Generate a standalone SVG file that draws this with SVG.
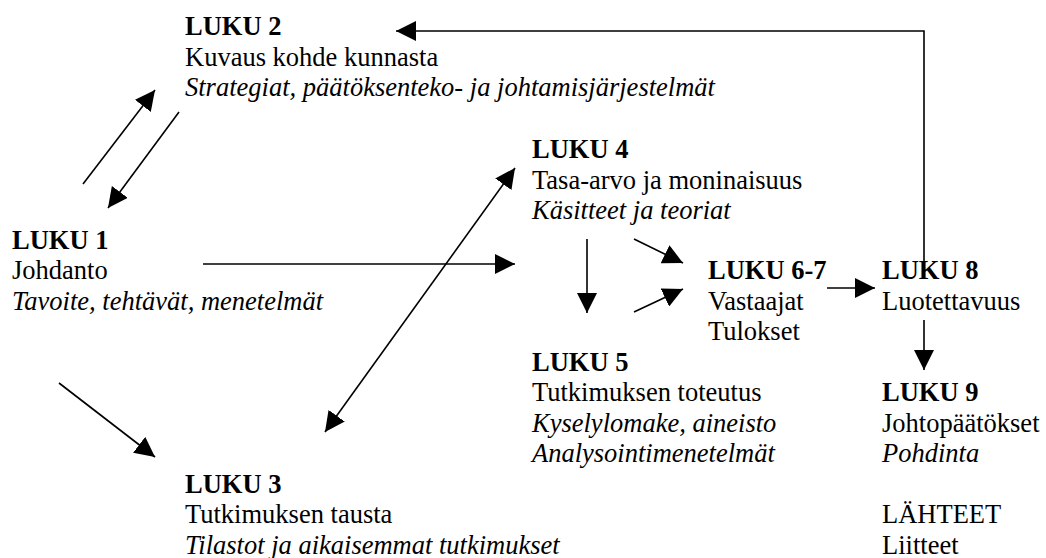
<svg xmlns="http://www.w3.org/2000/svg" width="1046" height="558" viewBox="0 0 1046 558">
  <style>
    text { font-family: "Liberation Serif", "Times New Roman", serif; font-size: 26.5px; fill: #000; }
    .h { font-weight: bold; }
    .i { font-style: italic; }
    .conn line, .conn polyline { stroke: #000; stroke-width: 1.6; fill: none; marker-end: url(#arrow); }
  </style>
  <defs>
    <marker id="arrow" viewBox="0 0 20 20" refX="20" refY="10" markerWidth="20" markerHeight="20" markerUnits="userSpaceOnUse" orient="auto-start-reverse">
      <path d="M0,0 L20,10 L0,20 z" fill="#000"/>
    </marker>
  </defs>
  <rect width="1046" height="558" fill="#fff"/>

  <!-- chapter blocks -->
  <g id="luku2">
    <text class="h" x="185" y="35">LUKU 2</text>
    <text x="185" y="65.5">Kuvaus kohde kunnasta</text>
    <text class="i" x="185" y="96">Strategiat, päätöksenteko- ja johtamisjärjestelmät</text>
  </g>
  <g id="luku1">
    <text class="h" x="12" y="248.5">LUKU 1</text>
    <text x="12" y="279">Johdanto</text>
    <text class="i" x="12" y="309.5">Tavoite, tehtävät, menetelmät</text>
  </g>
  <g id="luku4">
    <text class="h" x="532" y="158">LUKU 4</text>
    <text x="532" y="188.5">Tasa-arvo ja moninaisuus</text>
    <text class="i" x="532" y="219">Käsitteet ja teoriat</text>
  </g>
  <g id="luku67">
    <text class="h" x="708" y="279">LUKU 6-7</text>
    <text x="708" y="309.5">Vastaajat</text>
    <text x="708" y="340">Tulokset</text>
  </g>
  <g id="luku8">
    <text class="h" x="882" y="279">LUKU 8</text>
    <text x="882" y="309.5">Luotettavuus</text>
  </g>
  <g id="luku5">
    <text class="h" x="532" y="370.5">LUKU 5</text>
    <text x="532" y="401">Tutkimuksen toteutus</text>
    <text class="i" x="532" y="431.5">Kyselylomake, aineisto</text>
    <text class="i" x="532" y="462">Analysointimenetelmät</text>
  </g>
  <g id="luku9">
    <text class="h" x="882" y="401">LUKU 9</text>
    <text x="882" y="431.5">Johtopäätökset</text>
    <text class="i" x="882" y="462">Pohdinta</text>
  </g>
  <g id="liitteet">
    <text x="882" y="523">LÄHTEET</text>
    <text x="882" y="553.5">Liitteet</text>
  </g>
  <g id="luku3">
    <text class="h" x="185" y="492.5">LUKU 3</text>
    <text x="185" y="523">Tutkimuksen tausta</text>
    <text class="i" x="185" y="553.5">Tilastot ja aikaisemmat tutkimukset</text>
  </g>

  <!-- connectors -->
  <g id="connectors" class="conn">
    <polyline points="924,272 924,31 396,31"/>
    <line x1="83" y1="184" x2="155" y2="90"/>
    <line x1="179" y1="112" x2="108" y2="208"/>
    <line x1="203" y1="264" x2="515" y2="264"/>
    <line x1="325" y1="432" x2="515" y2="168" marker-start="url(#arrow)"/>
    <line x1="587" y1="239" x2="587" y2="313"/>
    <line x1="634" y1="239" x2="683" y2="263"/>
    <line x1="634" y1="312" x2="683" y2="289"/>
    <line x1="827" y1="288" x2="875" y2="288"/>
    <line x1="924" y1="320" x2="924" y2="370"/>
    <line x1="59" y1="383" x2="155" y2="457"/>
  </g>
</svg>
